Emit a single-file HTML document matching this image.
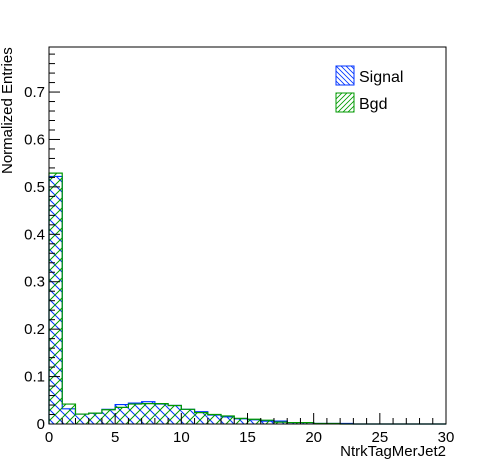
<!DOCTYPE html>
<html><head><meta charset="utf-8"><style>
html,body{margin:0;padding:0;background:#fff;}
svg{display:block;font-family:"Liberation Sans",sans-serif;}
</style></head><body>
<svg id="c" width="496" height="472" viewBox="0 0 496 472">
<defs>
<pattern id="hs" patternUnits="userSpaceOnUse" width="5" height="5"><path d="M-1,-1 L6,6 M-1,4 L1,6 M4,-1 L6,1" stroke="#0033ff" stroke-width="0.8"/></pattern>
<pattern id="hb" patternUnits="userSpaceOnUse" width="5" height="5"><path d="M-1,6 L6,-1 M-1,1 L1,-1 M4,6 L6,4" stroke="#009900" stroke-width="0.8"/></pattern>
<pattern id="hsd" patternUnits="userSpaceOnUse" width="10" height="10"><path d="M-1,-1 L11,11 M-1,9 L1,11 M9,-1 L11,1" stroke="#0033ff" stroke-width="1"/></pattern>
<pattern id="hbd" patternUnits="userSpaceOnUse" width="10" height="10"><path d="M-1,11 L11,-1 M-1,1 L1,-1 M9,11 L11,9" stroke="#009900" stroke-width="1"/></pattern>
</defs>
<g id="bars"></g>
<g id="axes"></g>
<text x="446" y="456" font-size="15" text-anchor="end">NtrkTagMerJet2</text>
<text transform="translate(12,174) rotate(-90)" font-size="15" text-anchor="start">Normalized Entries</text>
<g>
<g>
<rect x="336" y="66" width="18" height="19" fill="url(#hs)" stroke="#0033ff" stroke-width="1"/>
<text x="359" y="82" font-size="16">Signal</text></g>
<g>
<rect x="336" y="93" width="18" height="19" fill="url(#hb)" stroke="#009900" stroke-width="1"/>
<text x="359" y="109" font-size="16">Bgd</text></g>
</g>
</svg>
<script>
const binEdgesStart = 0;
const binWidth = 1;
const signalValues = [0.522,0.032,0.021,0.023,0.031,0.041,0.044,0.047,0.042,0.039,0.031,0.026,0.019,0.015,0.011,0.009,0.006,0.006,0.003,0.003,0.001,0.001,0.001,0,0,0,0,0,0,0];
const bgdValues = [0.529,0.042,0.021,0.023,0.030,0.035,0.042,0.043,0.043,0.039,0.031,0.024,0.020,0.017,0.012,0.010,0.008,0.004,0.003,0.003,0.001,0.001,0,0,0,0,0,0,0,0];
const xTicks = [0,5,10,15,20,25,30];
const yTicks = [0,0.1,0.2,0.3,0.4,0.5,0.6,0.7];
const X0=49,X1=446,Y0=424,Y1=47,XMAX=30,YMAX=0.795;
const xs=v=>X0+(v/XMAX)*(X1-X0);
const ys=v=>Y0-(v/YMAX)*(Y0-Y1);
const NS='http://www.w3.org/2000/svg';
function mk(t,a,p){const e=document.createElementNS(NS,t);for(const k in a)e.setAttribute(k,a[k]);p.appendChild(e);return e;}
const bars=document.getElementById('bars');
function drawSeries(vals,fill,stroke,name){
  const g=mk('g',{},bars);
  
  
  let d='M'+xs(binEdgesStart)+','+ys(0);
  vals.forEach((v,i)=>{
    const a=binEdgesStart+i*binWidth,b=a+binWidth;
    if(v>0){const r=mk('rect',{x:xs(a),y:ys(v),width:xs(b)-xs(a),height:ys(0)-ys(v),fill:fill},g);
      
      }
    d+=' L'+xs(a)+','+ys(v)+' L'+xs(b)+','+ys(v);
  });
  d+=' L'+xs(binEdgesStart+vals.length*binWidth)+','+ys(0);
  const p=mk('path',{d:d,fill:'none',stroke:stroke,'stroke-width':1.2},g);
  
  
}
drawSeries(signalValues,'url(#hsd)','#0033ff','signal');
drawSeries(bgdValues,'url(#hbd)','#009900','bgd');
const ax=document.getElementById('axes');
const fr=mk('rect',{x:X0,y:Y1,width:X1-X0,height:Y0-Y1,fill:'none',stroke:'#000','stroke-width':1},ax);


for(let i=0;i<=XMAX;i++){
  const maj=i%5===0;
  mk('line',{x1:xs(i),x2:xs(i),y1:Y0,y2:Y0-(maj?11:6),stroke:'#000','stroke-width':1},ax);
}
xTicks.forEach(t=>{const e=mk('text',{x:xs(t),y:Y0+18,'font-size':15,'text-anchor':'middle'},ax);e.textContent=t;
  
  });
for(let i=0;i<=39;i++){
  const v=i*0.02;if(v>YMAX)break;
  const maj=i%5===0;
  mk('line',{x1:X0,x2:X0+(maj?11:6),y1:ys(v),y2:ys(v),stroke:'#000','stroke-width':1},ax);
}
yTicks.forEach(t=>{const e=mk('text',{x:X0-4,y:ys(t)+5,'font-size':15,'text-anchor':'end'},ax);e.textContent=t===0?'0':t.toFixed(1);
  
  });
</script>
</body></html>
